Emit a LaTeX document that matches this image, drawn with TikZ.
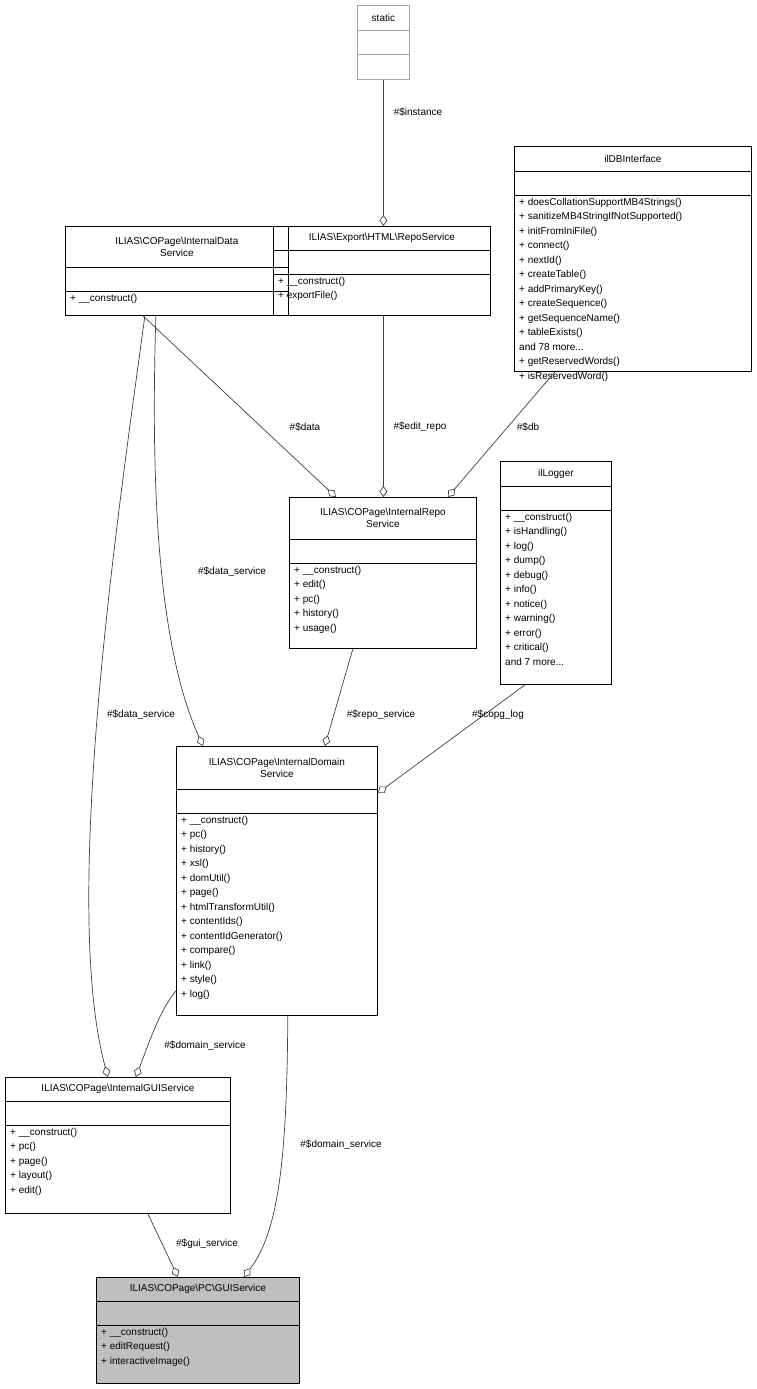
\documentclass[tikz,border=0pt]{standalone}
\usepackage{fontspec}
\setmainfont{Liberation Sans}
\usetikzlibrary{arrows.meta}
\definecolor{edgegray}{HTML}{404040}
\definecolor{boxgray}{HTML}{BFBFBF}
\tikzset{
  cls/.style={draw=black, anchor=north west, inner sep=0pt, line width=0.8pt},
  ttl/.style={align=center, font=\fontsize{10}{12}\selectfont, inner sep=0pt},
  meth/.style={align=left, anchor=north west, font=\fontsize{10}{14.5}\selectfont, inner sep=0pt},
  usage/.style={draw=edgegray, line width=0.7pt, -{Diamond[open,length=11pt,width=8pt]}},
  lbl/.style={font=\fontsize{10}{12}\selectfont, inner sep=1pt}
}
\newcommand{\bs}{\textbackslash}
% options, name, x, y, width, title height, method height, title, methods
\newcommand{\classbox}[9][]{%
  \node[cls,#1,minimum width=#5pt,minimum height={(#6+24+#7)*1pt}] (#2) at (#3,#4) {};
  \draw[#1,fill=none] ([yshift={-#6*1pt}]#2.north west) -- ([yshift={-#6*1pt}]#2.north east);
  \draw[#1,fill=none] ([yshift={-(#6+24)*1pt}]#2.north west) -- ([yshift={-(#6+24)*1pt}]#2.north east);
  \node[ttl] at ([yshift={-#6*0.5pt}]#2.north) {#8};
  \node[meth] at ([xshift=5pt,yshift={-(#6+24)*1pt-3pt}]#2.north west) {#9};
}
\begin{document}
\begin{tikzpicture}[x=1pt,y=-1pt]
\useasboundingbox (0,0) rectangle (757,1389);

\classbox[draw=gray!70]{static}{357}{5}{52}{25}{25}{static}{}
\classbox{dbif}{514}{146}{237}{25}{176}{ilDBInterface}{%
+ doesCollationSupportMB4Strings()\\
+ sanitizeMB4StringIfNotSupported()\\
+ initFromIniFile()\\
+ connect()\\
+ nextId()\\
+ createTable()\\
+ addPrimaryKey()\\
+ createSequence()\\
+ getSequenceName()\\
+ tableExists()\\
and 78 more...\\
+ getReservedWords()\\
+ isReservedWord()}
\classbox{dataServ}{65}{226}{223}{41}{24}{ILIAS\bs COPage\bs InternalData\\Service}{+ \_\_construct()}
\classbox{exportRepo}{273}{226}{217}{24}{41}{ILIAS\bs Export\bs HTML\bs RepoService}{+ \_\_construct()\\+ exportFile()}
\classbox{repoServ}{289}{497}{187}{42}{85}{ILIAS\bs COPage\bs InternalRepo\\Service}{%
+ \_\_construct()\\
+ edit()\\
+ pc()\\
+ history()\\
+ usage()}
\classbox{logger}{500}{461}{111}{25}{174}{ilLogger}{%
+ \_\_construct()\\
+ isHandling()\\
+ log()\\
+ dump()\\
+ debug()\\
+ info()\\
+ notice()\\
+ warning()\\
+ error()\\
+ critical()\\
and 7 more...}
\classbox{domainServ}{176}{746}{201}{43}{202}{ILIAS\bs COPage\bs InternalDomain\\Service}{%
+ \_\_construct()\\
+ pc()\\
+ history()\\
+ xsl()\\
+ domUtil()\\
+ page()\\
+ htmlTransformUtil()\\
+ contentIds()\\
+ contentIdGenerator()\\
+ compare()\\
+ link()\\
+ style()\\
+ log()}
\classbox{guiInternal}{5}{1077}{225}{24}{88}{ILIAS\bs COPage\bs InternalGUIService}{%
+ \_\_construct()\\
+ pc()\\
+ page()\\
+ layout()\\
+ edit()}
\classbox[fill=boxgray]{guiServ}{96}{1277}{203}{24}{58}{ILIAS\bs COPage\bs PC\bs GUIService}{%
+ \_\_construct()\\
+ editRequest()\\
+ interactiveImage()}

\draw[usage] (static.south) -- (exportRepo.north -| static.south);
\node[lbl] at (418,112) {\#\$instance};
\draw[usage] ([xshift=-34pt]dataServ.south) -- ([xshift=-47pt]repoServ.north);
\node[lbl] at (305,427) {\#\$data};
\draw[usage] (exportRepo.south -| static.south) -- (repoServ.north -| static.south);
\node[lbl] at (420,427) {\#\$edit\_repo};
\draw[usage] ([xshift=-78pt]dbif.south) -- ([xshift=-29pt]repoServ.north east);
\node[lbl] at (528,427) {\#\$db};
\draw[usage] ([xshift=-21pt]dataServ.south) .. controls (150,500) and (160,650) .. ([xshift=27pt]domainServ.north west);
\node[lbl] at (232,572) {\#\$data\_service};
\draw[usage] ([xshift=-30pt]repoServ.south) -- ([xshift=-53pt]domainServ.north east);
\node[lbl] at (381,715) {\#\$repo\_service};
\draw[usage] ([xshift=25pt]logger.south west) -- ([yshift=-47pt]domainServ.north east);
\node[lbl] at (498,715) {\#\$copg\_log};
\draw[usage] ([xshift=-32pt]dataServ.south) .. controls (120,500) and (60,900) .. ([xshift=-10pt]guiInternal.north);
\node[lbl] at (141,715) {\#\$data\_service};
\draw[usage] ([yshift=25pt]domainServ.south west) .. controls (160,1010) and (150,1040) .. ([xshift=18pt]guiInternal.north);
\node[lbl] at (205,1046) {\#\$domain\_service};
\draw[usage] ([xshift=-90pt]domainServ.south east) .. controls (287,1150) and (280,1230) .. ([xshift=-56pt]guiServ.north east);
\node[lbl] at (341,1145) {\#\$domain\_service};
\draw[usage] ([xshift=30pt]guiInternal.south) -- ([xshift=-20pt]guiServ.north);
\node[lbl] at (207,1244) {\#\$gui\_service};
\end{tikzpicture}
\end{document}
